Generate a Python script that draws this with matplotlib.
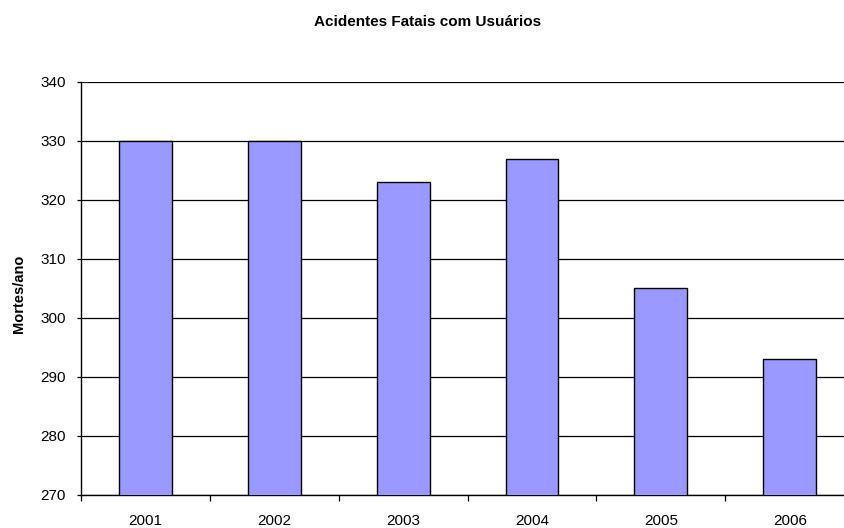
import numpy as np
import matplotlib.pyplot as plt

years = ["2001", "2002", "2003", "2004", "2005", "2006"]
deaths = [330, 330, 323, 327, 305, 293]

plt.rcParams['font.family'] = ['Liberation Sans', 'DejaVu Sans']

fig = plt.figure(figsize=(8.45, 5.28), dpi=100)
ax = fig.add_axes([0.0959, 0.063, 0.915, 0.782])

x = np.arange(len(years))
ax.set_axisbelow(True)
ax.yaxis.grid(True, color="black", linewidth=0.9)
ax.bar(x, deaths, width=0.41, color="#9999FF", edgecolor="black", linewidth=1.0, zorder=3)

ax.set_xlim(-0.5, len(years) - 0.5)
ax.set_ylim(270, 340)
ax.set_yticks(np.arange(270, 341, 10))
ax.set_xticks(x)
ax.set_xticklabels(years)
ax.set_xticks(np.arange(-0.5, len(years), 1.0), minor=True)
ax.tick_params(axis="x", which="major", length=0, labelsize=11, pad=14)
ax.tick_params(axis="x", which="minor", length=4, width=0.9, direction="out")
ax.tick_params(axis="y", length=3, width=0.9, labelsize=11, pad=8)

for s in ["top", "right"]:
    ax.spines[s].set_visible(False)
for s in ["left", "bottom"]:
    ax.spines[s].set_linewidth(1.0)

ax.set_ylabel("Mortes/ano", fontsize=10.5, fontweight="bold")
ax.yaxis.set_label_coords(-0.071, 0.487)
fig.text(0.506, 0.958, "Acidentes Fatais com Usuários", ha="center", va="center",
         fontsize=11, fontweight="bold")

fig.savefig("out.png", dpi=100)
